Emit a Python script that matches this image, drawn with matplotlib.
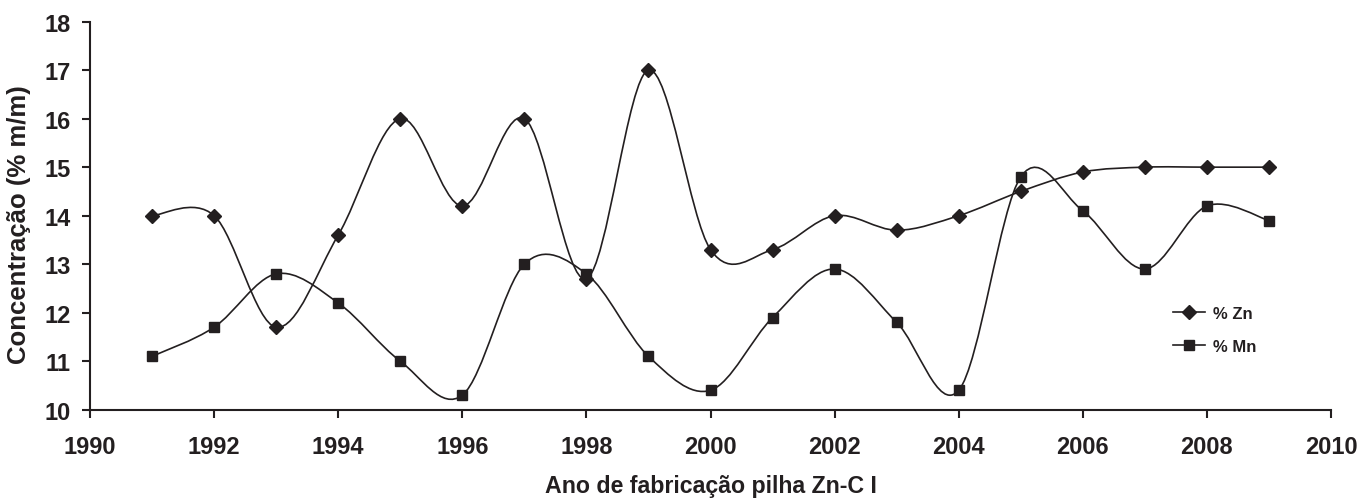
import matplotlib
matplotlib.use("Agg")
import matplotlib.pyplot as plt
from matplotlib.path import Path
from matplotlib.patches import PathPatch
import numpy as np

years = [1991, 1992, 1993, 1994, 1995, 1996, 1997, 1998, 1999, 2000,
         2001, 2002, 2003, 2004, 2005, 2006, 2007, 2008, 2009]
zn = [14.0, 14.0, 11.7, 13.6, 16.0, 14.2, 16.0, 12.7, 17.0, 13.3,
      13.3, 14.0, 13.7, 14.0, 14.5, 14.9, 15.0, 15.0, 15.0]
mn = [11.1, 11.7, 12.8, 12.2, 11.0, 10.3, 13.0, 12.8, 11.1, 10.4,
      11.9, 12.9, 11.8, 10.4, 14.8, 14.1, 12.9, 14.2, 13.9]
labels = ["% Zn", "% Mn"]
xlabel = "Ano de fabricação pilha Zn-C I"
ylabel = "Concentração (% m/m)"

plt.rcParams['font.family'] = ['Liberation Sans', 'DejaVu Sans']
plt.rcParams['font.weight'] = 'bold'

fig = plt.figure(figsize=(13.6, 5.02), dpi=100)
ax = fig.add_axes([0.0662, 0.1819, 0.9125, 0.773])
color = "#231f20"


def smooth_path(x, y):
    x = np.asarray(x, float)
    y = np.asarray(y, float)
    n = len(x)
    verts = [(x[0], y[0])]
    codes = [Path.MOVETO]
    for i in range(n - 1):
        x0, y0 = (x[i - 1], y[i - 1]) if i > 0 else (x[i], y[i])
        x3, y3 = (x[i + 2], y[i + 2]) if i + 2 < n else (x[i + 1], y[i + 1])
        c1 = (x[i] + (x[i + 1] - x0) / 6, y[i] + (y[i + 1] - y0) / 6)
        c2 = (x[i + 1] - (x3 - x[i]) / 6, y[i + 1] - (y3 - y[i]) / 6)
        verts += [c1, c2, (x[i + 1], y[i + 1])]
        codes += [Path.CURVE4] * 3
    return Path(verts, codes)


for vals, mk, ms, lab in [(zn, 'D', 7, labels[0]), (mn, 's', 7, labels[1])]:
    ax.add_patch(PathPatch(smooth_path(years, vals), fill=False,
                           edgecolor=color, lw=1.2))
    ax.plot(years, vals, linestyle='none', marker=mk, ms=ms, color=color)
    ax.plot([], [], color=color, lw=1.2, marker=mk, ms=ms, label=lab)

ax.set_xlim(1990, 2010)
ax.set_ylim(10, 18)
ax.set_xticks(range(1990, 2011, 2))
ax.set_yticks(range(10, 19))
for s in ['top', 'right']:
    ax.spines[s].set_visible(False)
for s in ['left', 'bottom']:
    ax.spines[s].set_linewidth(1.5)
    ax.spines[s].set_color(color)
ax.tick_params(direction='out', length=6, width=1.5, colors=color,
               labelsize=17)
ax.tick_params(axis='y', pad=8)
ax.tick_params(axis='x', pad=12)
for t in ax.get_xticklabels() + ax.get_yticklabels():
    t.set_fontweight('bold')

ax.set_xlabel(xlabel, fontsize=16.7, fontweight='bold', color=color, labelpad=12)
ax.set_ylabel(ylabel, fontsize=18.5, fontweight='bold', color=color)
ax.yaxis.set_label_coords(-0.0475, 0.48)

leg = ax.legend(loc='center left', bbox_to_anchor=(0.8676, 0.205), frameon=False,
                fontsize=12, handlelength=1.9, labelspacing=1.1,
                handletextpad=0.5, borderaxespad=0)
for t in leg.get_texts():
    t.set_fontweight('bold')
    t.set_color(color)

fig.savefig("out.png", dpi=100)
